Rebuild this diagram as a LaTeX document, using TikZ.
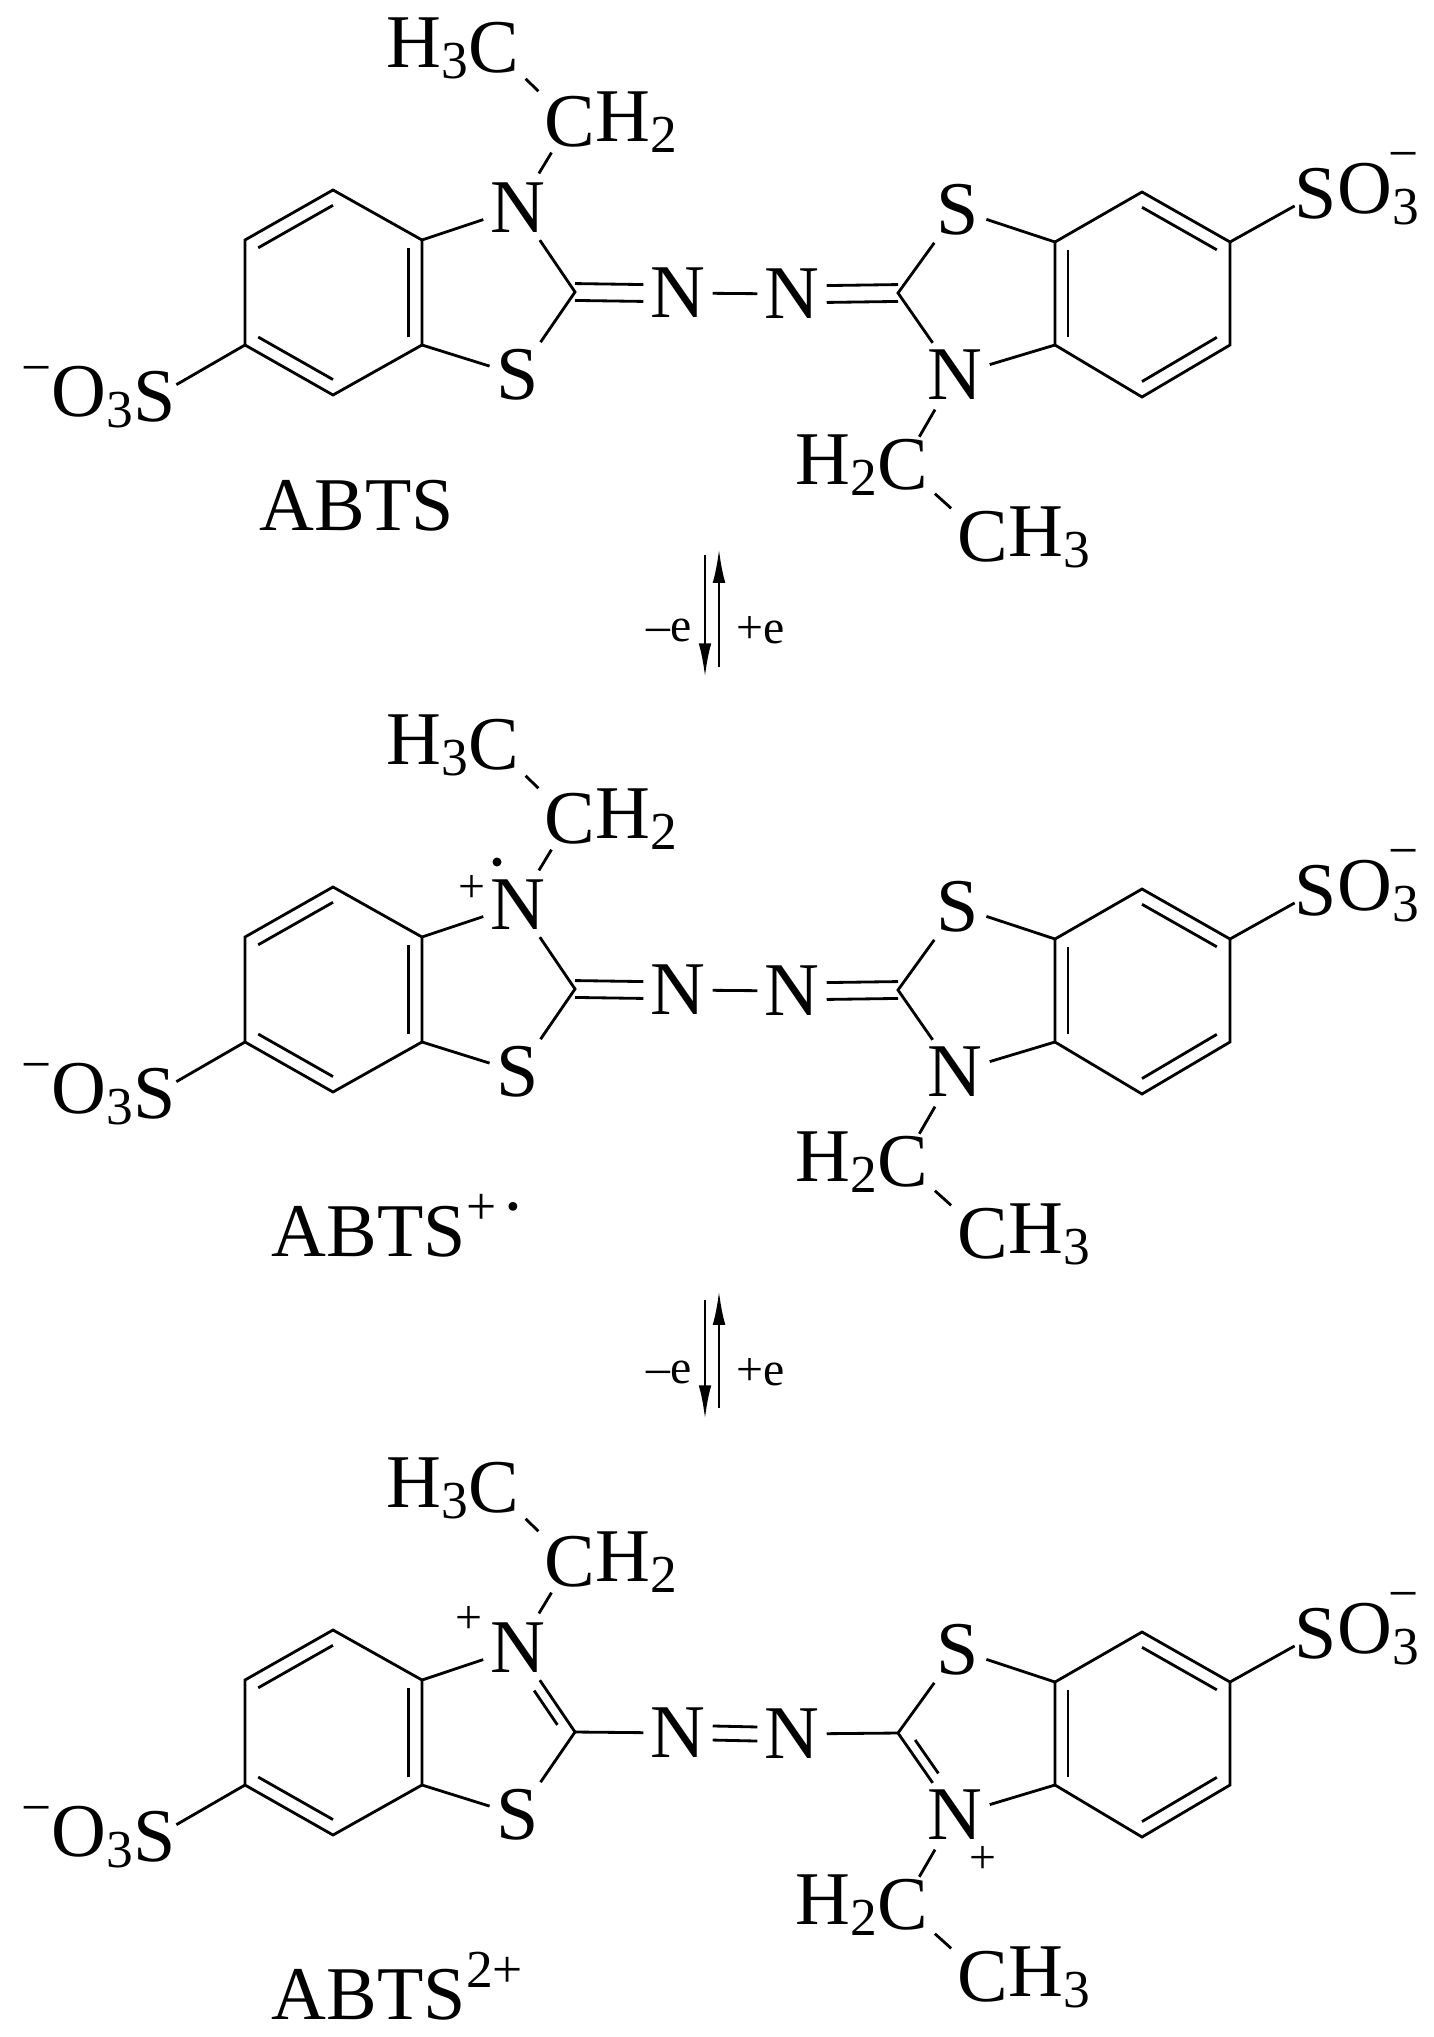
\documentclass[tikz,border=0pt]{standalone}
\usepackage{fontspec}
\setmainfont{Liberation Serif}
\usetikzlibrary{calc,arrows.meta}
\newcommand{\sbs}[1]{\raisebox{-0.32ex}{\fontsize{38}{38}\selectfont #1}}
\newcommand{\sps}[1]{\raisebox{0.9ex}{\fontsize{38}{38}\selectfont #1}}
\tikzset{
 atom/.style={inner sep=5pt,font=\fontsize{54}{56}\selectfont},
 grp/.style={inner sep=0pt,font=\fontsize{54}{56}\selectfont},
 bd/.style={line width=2pt},
 lbl/.style={font=\fontsize{54}{56}\selectfont},
 small/.style={font=\fontsize{34}{36}\selectfont},
 chg/.style={inner sep=0pt,font=\fontsize{38}{38}\selectfont},
 arr/.style={line width=2pt,-{Latex[length=24,width=9]}}
}
\newcommand{\inner}[3]{\draw[bd] ($(#1)!0.15!(#3)$) -- ($(#2)!0.15!(#3)$);}
\newcommand{\mol}[1]{%
 \coordinate (a1) at (333,190); \coordinate (a2) at (245,240);
 \coordinate (a3) at (245,345); \coordinate (a4) at (333,395);
 \coordinate (a5) at (422,345); \coordinate (a6) at (422,240);
 \coordinate (cl) at (333,292);
 \coordinate (b1) at (1142,192); \coordinate (b2) at (1230,242);
 \coordinate (b3) at (1230,345); \coordinate (b4) at (1142,397);
 \coordinate (b5) at (1055,345); \coordinate (b6) at (1055,242);
 \coordinate (cr) at (1142,294);
 \coordinate (cl5) at (490,292); \coordinate (cr5) at (980,293);
 \node[atom] (N1) at (518,208) {N};
 \node[atom] (S1) at (518,375) {S};
 \coordinate (C2) at (575,292);
 \node[atom] (Na) at (678,293) {N};
 \node[atom] (Nb) at (792,294) {N};
 \coordinate (C3) at (898,293);
 \node[atom] (S2) at (958,210) {S};
 \node[atom] (N2) at (955,375) {N};
 \node[grp] (C4) at (570,122) {C};
 \node[grp,anchor=west] (H4) at (C4.east) {H\sbs{2}};
 \node[grp] (C5) at (494,48) {C};
 \node[grp,anchor=east] (H5) at (C5.west) {H\sbs{3}};
 \node[grp] (C6) at (903,465) {C};
 \node[grp,anchor=east] (H6) at (C6.west) {H\sbs{2}};
 \node[grp] (C7) at (983,537) {C};
 \node[grp,anchor=west] (H7) at (C7.east) {H\sbs{3}};
 \node[grp] (S3) at (1316,194) {S};
 \node[grp,anchor=west] (O3) at (S3.east) {O\sbs{3}};
 \node[chg] (Q3) at (1404,162) {−};
 \node[grp] (S4) at (155,397) {S};
 \node[grp,anchor=east] (O4) at (S4.west) {\sps{−}O\sbs{3}};
 \draw[bd] (a1)--(a2)--(a3)--(a4)--(a5)--(a6)--cycle;
 \inner{a1}{a2}{cl}\inner{a3}{a4}{cl}\inner{a5}{a6}{cl}
 \draw[bd] (b1)--(b2)--(b3)--(b4)--(b5)--(b6)--cycle;
 \inner{b1}{b2}{cr}\inner{b3}{b4}{cr}\inner{b5}{b6}{cr}
 \draw[bd] (a6)--(N1) (N1)--(C2)--(S1) (S1)--(a5);
 \draw[bd] (b6)--(S2) (S2)--(C3)--(N2) (N2)--(b5);
 \draw[bd] (b2)--(S3) (a3)--(S4);
 \draw[bd,shorten >=4pt,shorten <=2pt] (N1)--(C4);
 \draw[bd,shorten >=6pt,shorten <=6pt] (C4)--(C5);
 \draw[bd,shorten >=2pt,shorten <=2pt] (N2)--(C6);
 \draw[bd,shorten >=6pt,shorten <=6pt] (C6)--(C7);
 \ifnum#1=3
  \draw[bd] (C2)--(Na) (Nb)--(C3);
  \draw[bd] ([yshift=5]Na.east)--([yshift=5]Nb.west) ([yshift=-5]Na.east)--([yshift=-5]Nb.west);
  \coordinate (m1) at ($(N1)!0.42!(C2)$); \coordinate (m2) at ($(C2)!0.1!(N1)$);
  \draw[bd] ($(m1)!0.15!(cl5)$)--($(m2)!0.15!(cl5)$);
  \coordinate (m3) at ($(N2)!0.42!(C3)$); \coordinate (m4) at ($(C3)!0.1!(N2)$);
  \draw[bd] ($(m3)!0.15!(cr5)$)--($(m4)!0.15!(cr5)$);
  \node[small] at (469,180) {+};
  \node[small] at (983,420) {+};
 \else
  \draw[bd] ([yshift=6]C2)--([yshift=6]Na.west) ([yshift=-6]C2)--([yshift=-6]Na.west);
  \draw[bd] ([yshift=6]C3)--([yshift=6]Nb.east) ([yshift=-6]C3)--([yshift=-6]Nb.east);
  \draw[bd] (Na)--(Nb);
 \fi
 \ifnum#1=2
  \node[small] at (472,192) {+};
  \fill (497,165) circle (4.5);
 \fi
}
\begin{document}
\begin{tikzpicture}[x=0.025cm,y=-0.025cm]
\useasboundingbox (0,0) rectangle (1433,2037);
\begin{scope}
 \mol{1}
 \node[lbl,anchor=base] (L1) at (357,530) {ABTS};
\end{scope}
\coordinate (r1t) at (705,555); \coordinate (r1b) at (705,677);
\coordinate (s1b) at (719,667); \coordinate (s1t) at (719,549);
\draw[arr] (r1t)--(r1b); \draw[arr] (s1b)--(s1t);
\node[small,anchor=east] (me1) at (697,630) {–e};
\node[small,anchor=west] (pe1) at (732,630) {+e};
\begin{scope}[yshift=-697*0.025cm]
 \mol{2}
 \node[lbl,anchor=base west] (L2) at (267,559) {ABTS\sps{+\hspace{0.15em}\textbf{·}}};
\end{scope}
\coordinate (r2t) at (705,1300); \coordinate (r2b) at (705,1419);
\coordinate (s2b) at (719,1408); \coordinate (s2t) at (719,1291);
\draw[arr] (r2t)--(r2b); \draw[arr] (s2b)--(s2t);
\node[small,anchor=east] (me2) at (697,1372) {–e};
\node[small,anchor=west] (pe2) at (732,1372) {+e};
\begin{scope}[yshift=-1440*0.025cm]
 \mol{3}
 \node[lbl,anchor=base west] (L3) at (267,579) {ABTS\sps{2+}};
\end{scope}
\end{tikzpicture}
\end{document}
